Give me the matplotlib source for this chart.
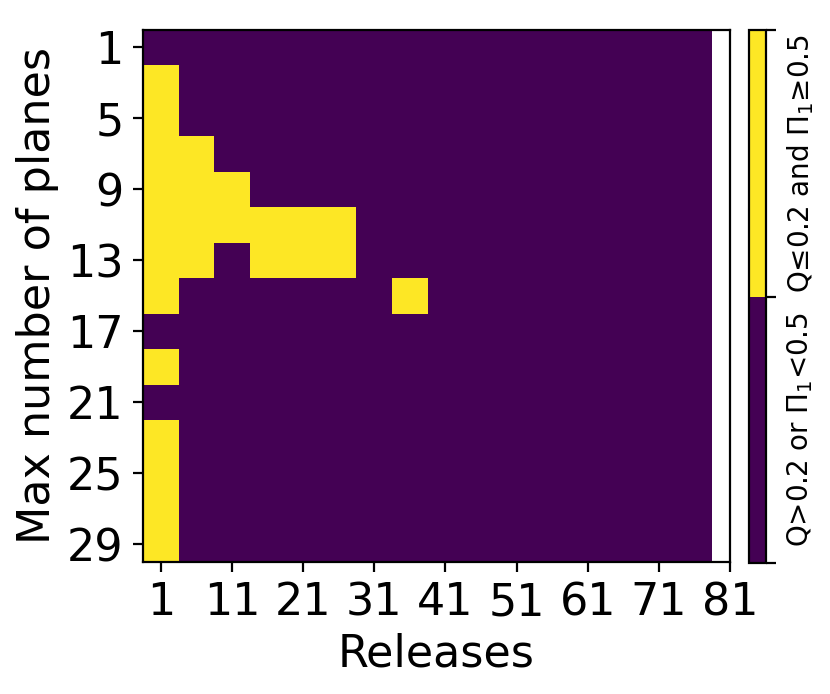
import numpy as np
from matplotlib import pyplot as plt
from matplotlib.colors import ListedColormap

# release index of each column and plane count of each row
releases = [1, 6, 11, 16, 21, 26, 31, 36, 41, 46, 51, 56, 61, 66, 71, 76]
planes = [1, 3, 5, 7, 9, 11, 13, 15, 17, 19, 21, 23, 25, 27, 29]

# 1 = Q<=0.2 and Pi_1>=0.5, 0 otherwise
ok = [
    [0, 0, 0, 0, 0, 0, 0, 0, 0, 0, 0, 0, 0, 0, 0, 0],
    [1, 0, 0, 0, 0, 0, 0, 0, 0, 0, 0, 0, 0, 0, 0, 0],
    [1, 0, 0, 0, 0, 0, 0, 0, 0, 0, 0, 0, 0, 0, 0, 0],
    [1, 1, 0, 0, 0, 0, 0, 0, 0, 0, 0, 0, 0, 0, 0, 0],
    [1, 1, 1, 0, 0, 0, 0, 0, 0, 0, 0, 0, 0, 0, 0, 0],
    [1, 1, 1, 1, 1, 1, 0, 0, 0, 0, 0, 0, 0, 0, 0, 0],
    [1, 1, 0, 1, 1, 1, 0, 0, 0, 0, 0, 0, 0, 0, 0, 0],
    [1, 0, 0, 0, 0, 0, 0, 1, 0, 0, 0, 0, 0, 0, 0, 0],
    [0, 0, 0, 0, 0, 0, 0, 0, 0, 0, 0, 0, 0, 0, 0, 0],
    [1, 0, 0, 0, 0, 0, 0, 0, 0, 0, 0, 0, 0, 0, 0, 0],
    [0, 0, 0, 0, 0, 0, 0, 0, 0, 0, 0, 0, 0, 0, 0, 0],
    [1, 0, 0, 0, 0, 0, 0, 0, 0, 0, 0, 0, 0, 0, 0, 0],
    [1, 0, 0, 0, 0, 0, 0, 0, 0, 0, 0, 0, 0, 0, 0, 0],
    [1, 0, 0, 0, 0, 0, 0, 0, 0, 0, 0, 0, 0, 0, 0, 0],
    [1, 0, 0, 0, 0, 0, 0, 0, 0, 0, 0, 0, 0, 0, 0, 0],
]

xticks = [1, 11, 21, 31, 41, 51, 61, 71, 81]
yticks = [1, 5, 9, 13, 17, 21, 25, 29]
labels = ['Q>0.2 or Π$_1$<0.5', 'Q≤0.2 and Π$_1$≥0.5']


def main():
    fig = plt.figure(figsize=(4.15, 3.47), dpi=200)
    ax = fig.add_axes([143 / 830, 132 / 694, 587 / 830, 532.5 / 694])
    cax = fig.add_axes([749 / 830, 131 / 694, 17 / 830, 533 / 694])

    cmap = ListedColormap(['#440154', '#fde725'])
    x_edges = np.append(np.array(releases) - 2.5, releases[-1] + 2.5)
    y_edges = np.append(np.array(planes) - 1, planes[-1] + 1)
    mesh = ax.pcolormesh(x_edges, y_edges, np.array(ok), cmap=cmap,
                         vmin=0, vmax=1)

    ax.set_xlim(-1.5, 81)
    ax.set_ylim(30, 0)
    ax.set_xticks(xticks)
    ax.set_yticks(yticks)
    ax.tick_params(axis='both', which='major', labelsize=16)
    ax.set_xlabel('Releases', fontsize=16, labelpad=3)
    ax.set_ylabel('Max number of planes', fontsize=16, labelpad=3)

    cbar = fig.colorbar(mesh, cax=cax)
    cbar.set_ticks([0.25, 0.75])
    cbar.set_ticklabels(labels)
    cax.set_yticks([0, 0.5, 1], minor=True)
    cax.tick_params(which='major', length=0, labelsize=10, pad=7)
    cax.tick_params(which='minor', length=3.5, width=0.8)
    for t in cax.get_yticklabels():
        t.set_rotation(90)
        t.set_va('center')

    fig.savefig('out.png', dpi=200)


if __name__ == "__main__":
    main()
